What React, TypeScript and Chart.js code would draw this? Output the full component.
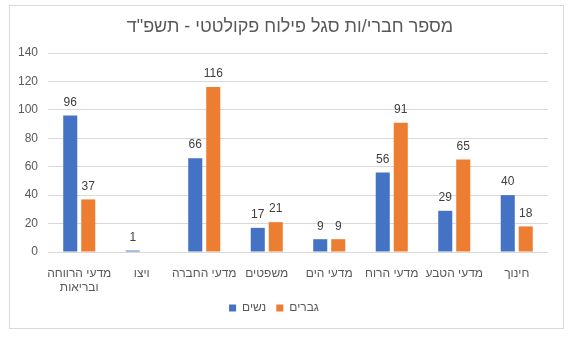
import React, { useEffect, useRef } from "react";
import { Chart, registerables } from "chart.js";

Chart.register(...registerables);

const titleText = 'מספר חברי/ות סגל פילוח פקולטטי - תשפ"ד';
const categories: (string | string[])[] = [
  ["מדעי הרווחה", "ובריאות"],
  "ויצו",
  "מדעי החברה",
  "משפטים",
  "מדעי הים",
  "מדעי הרוח",
  "מדעי הטבע",
  "חינוך",
];
const womenLabel = "נשים";
const menLabel = "גברים";
const womenValues: (number | null)[] = [96, 1, 66, 17, 9, 56, 29, 40];
const menValues: (number | null)[] = [37, null, 116, 21, 9, 91, 65, 18];
const yTicksMax = 140;
const yTicksStep = 20;

const FONT = "'Liberation Sans', Arial, sans-serif";
const TEXT = "#595959";

export default function App() {
  const ref = useRef<HTMLCanvasElement | null>(null);
  useEffect(() => {
    document.body.style.margin = "0";
    const canvas = ref.current;
    if (!canvas) return;

    const framePlugin = {
      id: "frame",
      beforeDraw(chart: any) {
        const ctx = chart.ctx;
        ctx.save();
        ctx.fillStyle = "#ffffff";
        ctx.fillRect(0, 0, chart.width, chart.height);
        ctx.strokeStyle = "#D9D9D9";
        ctx.lineWidth = 1;
        ctx.strokeRect(9.5, 5.5, 554, 323);
        ctx.fillStyle = TEXT;
        ctx.font = `18px ${FONT}`;
        ctx.textAlign = "center";
        ctx.textBaseline = "middle";
        ctx.fillText(titleText, 290, 27);
        ctx.restore();
      },
    };

    const labelPlugin = {
      id: "valueLabels",
      afterDatasetsDraw(chart: any) {
        const ctx = chart.ctx;
        ctx.save();
        ctx.fillStyle = "#404040";
        ctx.font = `12px ${FONT}`;
        ctx.textAlign = "center";
        ctx.textBaseline = "bottom";
        chart.data.datasets.forEach((ds: any, i: number) => {
          const meta = chart.getDatasetMeta(i);
          meta.data.forEach((el: any, j: number) => {
            const v = ds.data[j];
            if (v === null || v === undefined) return;
            ctx.fillText(String(v), el.x, el.y - 7);
          });
        });
        ctx.restore();
      },
    };

    const chart = new Chart(canvas, {
      type: "bar",
      data: {
        labels: categories,
        datasets: [
          {
            label: womenLabel,
            data: womenValues,
            backgroundColor: "#4472C4",
            categoryPercentage: 0.576,
            barPercentage: 0.78,
          },
          {
            label: menLabel,
            data: menValues,
            backgroundColor: "#ED7D31",
            categoryPercentage: 0.576,
            barPercentage: 0.78,
          },
        ],
      },
      options: {
        animation: false,
        responsive: false,
        maintainAspectRatio: false,
        layout: { padding: { top: 53, left: 0, right: 22, bottom: 13 } },
        plugins: {
          title: { display: false },
          tooltip: { enabled: false },
          legend: {
            position: "bottom",
            labels: {
              boxWidth: 7,
              boxHeight: 7,
              color: TEXT,
              font: { family: FONT, size: 12 },
              padding: 10,
            },
          },
        },
        scales: {
          x: {
            grid: { display: false },
            border: { display: false },
            ticks: {
              color: TEXT,
              font: { family: FONT, size: 12 },
              maxRotation: 0,
              autoSkip: false,
              padding: 6,
            },
            afterFit(scale: any) {
              scale.height = 40;
            },
          },
          y: {
            min: 0,
            max: yTicksMax,
            ticks: {
              stepSize: yTicksStep,
              color: TEXT,
              font: { family: FONT, size: 12 },
              padding: 10,
            },
            grid: { color: "#D9D9D9", drawTicks: false },
            border: { display: false },
            afterFit(scale: any) {
              scale.width = 48;
            },
          },
        },
      },
      plugins: [framePlugin, labelPlugin],
    });
    return () => chart.destroy();
  }, []);
  return (
    <div style={{ width: 570, height: 337 }}>
      <canvas ref={ref} width={570} height={337} style={{ width: 570, height: 337 }} />
    </div>
  );
}
